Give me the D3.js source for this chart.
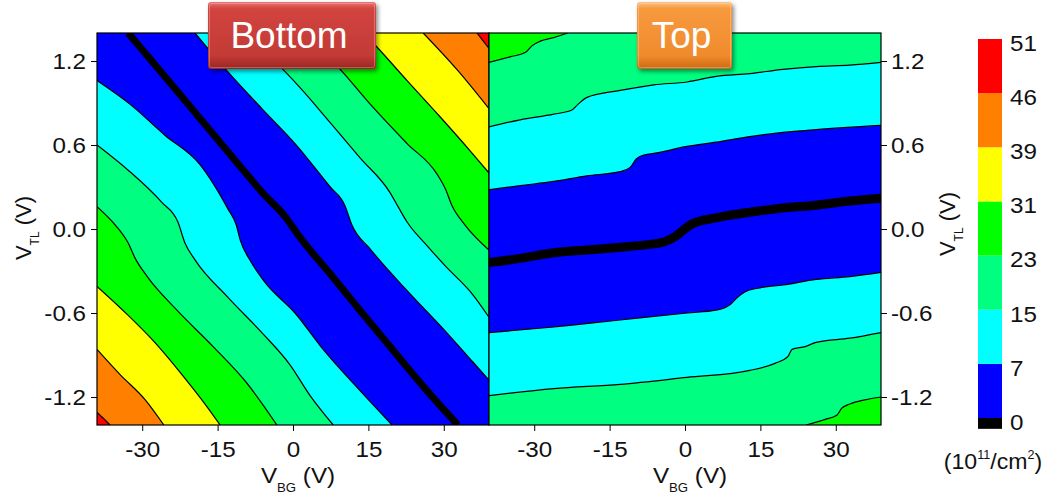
<!DOCTYPE html>
<html>
<head>
<meta charset="utf-8">
<script src="https://cdn.jsdelivr.net/npm/d3@7"></script>
<style>
  body { margin: 0; background: #fff; }
  svg { display: block; }
  text { font-family: "Liberation Sans", Arial, sans-serif; white-space: pre; }
</style>
</head>
<body>
<svg id="chart" width="1053" height="502"></svg>
<script>
// Carrier density levels (10^11 cm^-2) and the colour of each band levels[i]..levels[i+1]
const levels = [0, 7, 15, 23, 31, 39, 46, 51];
const bandColors = ["#0000ff", "#00ffff", "#00ff80", "#00ff00", "#ffff00", "#ff8000", "#ff0000"];
const zeroColor = "#000000";

const xTicks = [-30, -15, 0, 15, 30];
const yTicks = [-1.2, -0.6, 0.0, 0.6, 1.2];
const xDomain = [-39, 39];
const yDomain = [-1.4, 1.4];

// ---- Bottom layer: iso-density boundaries, points are [V_BG, V_TL] ----
// toward the lower-left corner
const bottomLL7  = [[-39,1.06],[-32.4,0.89],[-25.5,0.67],[-18.5,0.46],[-12.9,0.14],[-11.3,0.03],[-10.5,-0.08],[-8.6,-0.22],[-5.6,-0.38],[0.4,-0.60],[6.0,-0.86],[12.7,-1.13],[19.7,-1.40]];
const bottomLL15 = [[-39,0.60],[-32.8,0.42],[-26.1,0.19],[-22.9,0.05],[-21.5,-0.10],[-19.5,-0.22],[-12.9,-0.49],[-6.2,-0.74],[-0.6,-0.97],[3.4,-1.19],[8.0,-1.40]];
const bottomLL23 = [[-39,0.16],[-35.4,0.03],[-32.8,-0.10],[-31.4,-0.21],[-29.0,-0.34],[-23.1,-0.58],[-15.9,-0.84],[-9.2,-1.10],[-3.2,-1.40]];
const bottomLL31 = [[-39,-0.41],[-33.0,-0.61],[-27.5,-0.81],[-22.1,-1.04],[-17.1,-1.27],[-14.5,-1.40]];
const bottomLL39 = [[-39,-0.86],[-34.4,-1.04],[-29.4,-1.22],[-25.7,-1.40]];
const bottomLL46 = [[-39,-1.31],[-37.8,-1.35],[-36.4,-1.40]];
// toward the upper-right corner
const bottomUR7  = [[-19.5,1.40],[-12.9,1.12],[-6.2,0.86],[0.4,0.61],[7.4,0.30],[10.3,0.17],[11.7,0.03],[15.3,-0.14],[22.7,-0.44],[29.3,-0.69],[35.8,-0.95],[39,-1.08]];
const bottomUR15 = [[-9.5,1.40],[-2.0,1.14],[1.4,1.01],[7.4,0.76],[13.3,0.51],[19.3,0.26],[20.9,0.16],[22.7,0.05],[26.7,-0.12],[30.2,-0.26],[35.8,-0.47],[39,-0.63]];
const bottomUR23 = [[2.4,1.40],[9.4,1.14],[15.9,0.87],[22.7,0.61],[28.7,0.39],[30.4,0.28],[31.6,0.17],[34.2,0.03],[39,-0.15]];
const bottomUR31 = [[14.1,1.40],[16.7,1.30],[22.7,1.06],[29.3,0.80],[35.2,0.56],[39,0.40]];
const bottomUR39 = [[25.9,1.40],[32.6,1.14],[39,0.86]];
const bottomUR46 = [[36.6,1.40],[39,1.29]];
// charge-neutrality line
const bottomZero = [[-32.8,1.40],[-25.5,1.09],[-18.5,0.79],[-11.5,0.49],[-5.6,0.24],[-1.6,0.09],[0.0,0.01],[1.4,-0.06],[7.4,-0.32],[13.3,-0.58],[19.3,-0.84],[26.3,-1.14],[32.8,-1.40]];

// ---- Top layer ----
const topUp7    = [[-39,0.28],[-32.8,0.31],[-26.1,0.34],[-19.5,0.38],[-12.9,0.41],[-10.9,0.44],[-9.7,0.50],[-8.0,0.53],[-6.2,0.54],[0.4,0.59],[6.2,0.62],[12.9,0.66],[19.5,0.69],[26.1,0.71],[39,0.74]];
const topUp15   = [[-39,0.73],[-32.8,0.78],[-26.1,0.82],[-22.5,0.85],[-21.3,0.89],[-19.5,0.94],[-12.9,0.99],[-6.2,1.03],[0.4,1.05],[6.2,1.09],[12.9,1.11],[19.5,1.14],[26.1,1.16],[32.8,1.17],[39,1.19]];
const topUp23   = [[-39,1.19],[-34.8,1.23],[-31.8,1.26],[-30.4,1.31],[-28.9,1.34],[-25.9,1.37],[-23.3,1.40]];
const topDown7  = [[-39,-0.74],[-26.1,-0.70],[-12.9,-0.65],[0.4,-0.60],[6.2,-0.58],[9.0,-0.54],[10.4,-0.49],[11.9,-0.45],[14.9,-0.42],[19.5,-0.40],[26.1,-0.36],[32.8,-0.34],[39,-0.31]];
const topDown15 = [[-39,-1.19],[-26.1,-1.14],[-12.9,-1.11],[0.4,-1.06],[12.9,-1.01],[17.9,-0.96],[20.5,-0.91],[21.3,-0.86],[23.9,-0.84],[26.1,-0.81],[32.8,-0.78],[39,-0.74]];
const topDown23 = [[24.1,-1.40],[27.9,-1.36],[30.2,-1.33],[31.2,-1.28],[32.8,-1.25],[35.8,-1.22],[39,-1.20]];
const topZero   = [[-39,-0.24],[-32.8,-0.21],[-26.1,-0.17],[-19.5,-0.15],[-12.9,-0.13],[-7.0,-0.11],[-4.0,-0.09],[-1.8,-0.05],[-0.4,-0.01],[1.6,0.04],[6.2,0.08],[12.9,0.12],[19.5,0.15],[26.1,0.17],[32.8,0.20],[39,0.22]];

const colorbarTicks = ["0", "7", "15", "23", "31", "39", "46", "51"];

// side tells which corners close the region beyond each boundary
const bottomContours = [
  { level: 7,  side: "lowerLeft",  pts: bottomLL7 },
  { level: 15, side: "lowerLeft",  pts: bottomLL15 },
  { level: 23, side: "lowerLeft",  pts: bottomLL23 },
  { level: 31, side: "lowerLeft",  pts: bottomLL31 },
  { level: 39, side: "lowerLeft",  pts: bottomLL39 },
  { level: 46, side: "lowerLeft",  pts: bottomLL46 },
  { level: 7,  side: "upperRight", pts: bottomUR7 },
  { level: 15, side: "upperRight", pts: bottomUR15 },
  { level: 23, side: "upperRight", pts: bottomUR23 },
  { level: 31, side: "upperRight", pts: bottomUR31 },
  { level: 39, side: "upperRight", pts: bottomUR39 },
  { level: 46, side: "upperRight", pts: bottomUR46 }
];
const topContours = [
  { level: 7,  side: "above", pts: topUp7 },
  { level: 15, side: "above", pts: topUp15 },
  { level: 23, side: "above", pts: topUp23 },
  { level: 7,  side: "below", pts: topDown7 },
  { level: 15, side: "below", pts: topDown15 },
  { level: 23, side: "below", pts: topDown23 }
];

const svg = d3.select("#chart");
const font = "'Liberation Sans', Arial, sans-serif";
const plotTop = 33, plotH = 392, plotW = 392;
const y = d3.scaleLinear().domain(yDomain).range([plotTop + plotH, plotTop]);

const defs = svg.append("defs");
const levelColor = lv => bandColors[levels.indexOf(lv)];

const panels = [
  { id: "bottom", left: 97,  contours: bottomContours, zero: bottomZero, zeroWidth: 7, axis: "left" },
  { id: "top",    left: 489, contours: topContours,    zero: topZero,    zeroWidth: 9, axis: "right" }
];

panels.forEach(p => {
  const x = d3.scaleLinear().domain(xDomain).range([p.left, p.left + plotW]);
  const line = d3.line().x(d => x(d[0])).y(d => y(d[1])).curve(d3.curveMonotoneX);
  const corners = {
    lowerLeft:  [[xDomain[0], yDomain[0]]],
    upperRight: [[xDomain[1], yDomain[1]]],
    above: [[xDomain[1], yDomain[1]], [xDomain[0], yDomain[1]]],
    below: [[xDomain[1], yDomain[0]], [xDomain[0], yDomain[0]]]
  };

  defs.append("clipPath").attr("id", "clip-" + p.id)
    .append("rect").attr("x", p.left).attr("y", plotTop).attr("width", plotW).attr("height", plotH);

  const g = svg.append("g").attr("clip-path", `url(#clip-${p.id})`);

  // base band (0..7)
  g.append("rect").attr("x", p.left).attr("y", plotTop).attr("width", plotW).attr("height", plotH)
    .attr("fill", bandColors[0]);

  // filled regions, lower levels first so higher bands sit on top
  const sorted = p.contours.slice().sort((a, b) => a.level - b.level);
  g.selectAll("path.band").data(sorted).join("path")
    .attr("class", "band")
    .attr("fill", d => levelColor(d.level))
    .attr("d", d => line(d.pts) + corners[d.side].map(c => `L${x(c[0])},${y(c[1])}`).join("") + "Z");

  // charge-neutrality band
  g.append("path").attr("d", line(p.zero))
    .attr("fill", "none").attr("stroke", zeroColor)
    .attr("stroke-width", p.zeroWidth).attr("stroke-linejoin", "round");

  // contour lines
  g.selectAll("path.iso").data(p.contours).join("path")
    .attr("class", "iso").attr("d", d => line(d.pts))
    .attr("fill", "none").attr("stroke", "#000").attr("stroke-width", 1.2);

  // frame
  svg.append("rect").attr("x", p.left).attr("y", plotTop).attr("width", plotW).attr("height", plotH)
    .attr("fill", "none").attr("stroke", "#000").attr("stroke-width", 1.2);

  // x axis
  const gx = svg.append("g").attr("transform", `translate(0,${plotTop + plotH})`)
    .call(d3.axisBottom(x).tickValues(xTicks).tickSize(6).tickPadding(10).tickFormat(d => String(d)));
  gx.select(".domain").remove();
  gx.attr("font-size", 22).attr("font-family", font);
  gx.selectAll("line").attr("stroke", "#000");
  gx.selectAll("text").attr("fill", "#111").attr("transform", "scale(1.1,1)");

  // y axis
  const yAxis = p.axis === "left" ? d3.axisLeft(y) : d3.axisRight(y);
  const gy = svg.append("g")
    .attr("transform", `translate(${p.axis === "left" ? p.left : p.left + plotW},0)`)
    .call(yAxis.tickValues(yTicks).tickSize(6).tickPadding(p.axis === "left" ? 4 : 3).tickFormat(d => d.toFixed(1)));
  gy.select(".domain").remove();
  gy.attr("font-size", 22).attr("font-family", font);
  gy.selectAll("line").attr("stroke", "#000");
  gy.selectAll("text").attr("fill", "#111").attr("transform", "scale(1.1,1)");

  // x axis title
  const cx = p.left + plotW / 2 + 5;
  const xt = svg.append("text").attr("x", cx).attr("y", 483)
    .attr("text-anchor", "middle").attr("font-size", 22).attr("fill", "#111")
    .attr("transform-origin", `${cx}px 483px`).attr("transform", "scale(1.1,1)");
  xt.append("tspan").text("V");
  xt.append("tspan").attr("font-size", 12).attr("dy", 9).text("BG");
  xt.append("tspan").attr("dy", -9).text(" (V)");
});

// y axis titles
[{ x: 31, y: 228 }, { x: 955, y: 224 }].forEach(pos => {
  const t = svg.append("text").attr("transform", `translate(${pos.x},${pos.y}) rotate(-90)`)
    .attr("text-anchor", "middle").attr("font-size", 22).attr("fill", "#111");
  t.append("tspan").text("V");
  t.append("tspan").attr("font-size", 12).attr("dy", 8).text("TL");
  t.append("tspan").attr("dy", -8).text(" (V)");
});

// colour bar
const cbX = 978, cbW = 24;
const cbY = d3.scaleLinear().domain([0, colorbarTicks.length - 1]).range([418, 39]);
const cb = svg.append("g");
cb.selectAll("rect.seg").data(bandColors).join("rect")
  .attr("class", "seg")
  .attr("x", cbX).attr("width", cbW)
  .attr("y", (d, i) => cbY(i + 1)).attr("height", (d, i) => cbY(i) - cbY(i + 1))
  .attr("fill", d => d);
cb.append("rect").attr("x", cbX).attr("width", cbW)
  .attr("y", cbY(0)).attr("height", cbY(-0.2) - cbY(0)).attr("fill", zeroColor);
cb.selectAll("text").data(colorbarTicks).join("text")
  .attr("x", 1010).attr("y", (d, i) => cbY(i) + 4).attr("dy", "0.36em")
  .attr("font-size", 22).attr("fill", "#111").attr("transform-origin", "1010px 0")
  .attr("transform", "scale(1.1,1)")
  .text(d => d);

const unit = svg.append("text").attr("x", 993).attr("y", 469).attr("text-anchor", "middle")
  .attr("font-size", 22).attr("fill", "#111")
  .attr("transform-origin", "993px 469px").attr("transform", "scale(1.05,1)");
unit.append("tspan").text("(10");
unit.append("tspan").attr("font-size", 12).attr("dy", -10).text("11");
unit.append("tspan").attr("dy", 10).text("/cm");
unit.append("tspan").attr("font-size", 12).attr("dy", -10).text("2");
unit.append("tspan").attr("dy", 10).text(")");

// panel title badges
const shadow = defs.append("filter").attr("id", "badgeShadow")
  .attr("x", "-20%").attr("y", "-20%").attr("width", "140%").attr("height", "150%");
shadow.append("feDropShadow").attr("dx", 2).attr("dy", 2.5).attr("stdDeviation", 2)
  .attr("flood-color", "#000").attr("flood-opacity", 0.45);

const badges = [
  { label: "Bottom", x: 208, w: 168, stops: ["#ec7672", "#d2443f", "#c23a36", "#9a2623"] },
  { label: "Top",    x: 637, w: 95,  stops: ["#fcc184", "#f7993f", "#f08b2c", "#cc6a12"] }
];
badges.forEach((b, k) => {
  const grad = defs.append("linearGradient").attr("id", "badge" + k)
    .attr("x1", 0).attr("y1", 0).attr("x2", 0).attr("y2", 1);
  [0, 0.1, 0.8, 1].forEach((o, i) => grad.append("stop").attr("offset", o).attr("stop-color", b.stops[i]));
  const g = svg.append("g");
  g.append("rect").attr("x", b.x).attr("y", 2).attr("width", b.w).attr("height", 67)
    .attr("rx", 3).attr("fill", `url(#badge${k})`).attr("filter", "url(#badgeShadow)");
  g.append("rect").attr("x", b.x + 1.5).attr("y", 3.5).attr("width", b.w - 3).attr("height", 64)
    .attr("rx", 2).attr("fill", "none").attr("stroke", "rgba(255,255,255,0.25)").attr("stroke-width", 1);
  g.append("text").attr("x", b.x + b.w / 2 - 3).attr("y", 48).attr("text-anchor", "middle")
    .attr("font-family", "Lato, 'Open Sans', sans-serif").attr("font-size", 37)
    .attr("fill", "#fff").text(b.label);
});
</script>
</body>
</html>
